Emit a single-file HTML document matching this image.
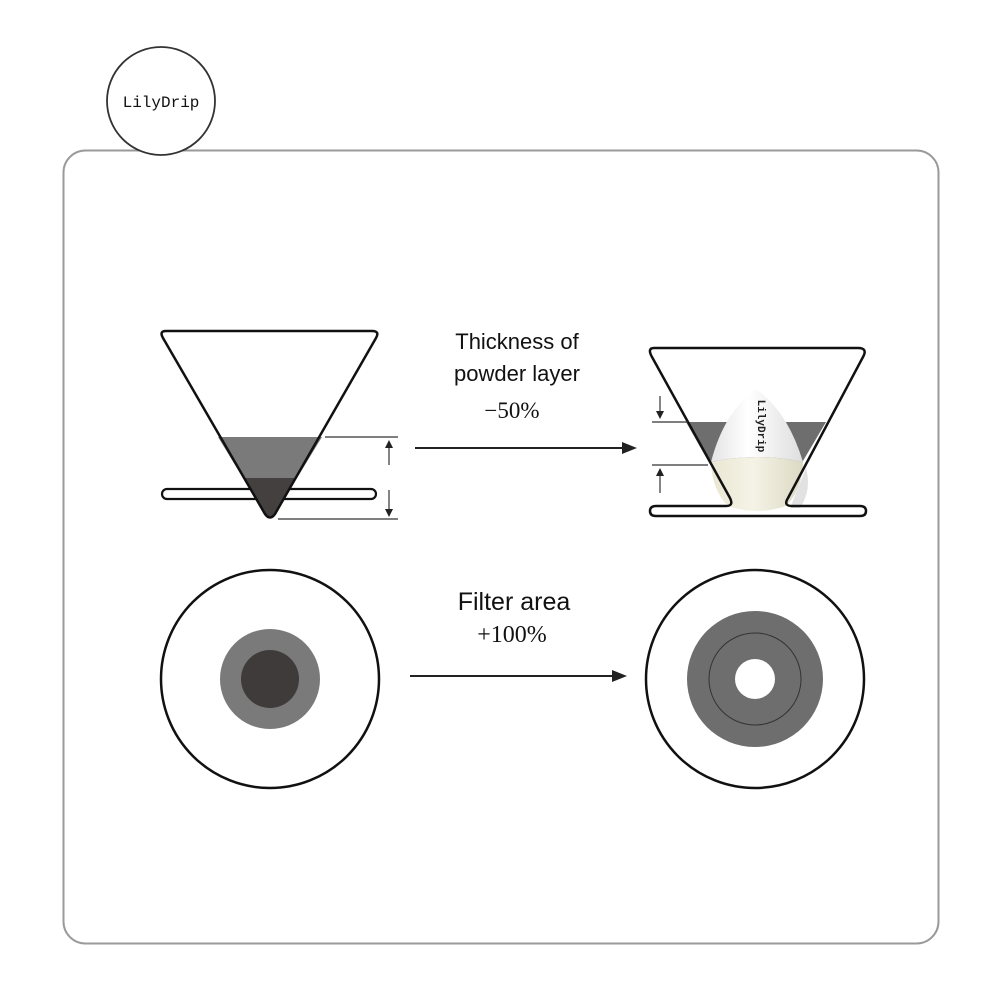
<!DOCTYPE html>
<html><head><meta charset="utf-8"><style>
html,body{margin:0;padding:0;background:#fff;}
svg{display:block}
</style></head><body>
<svg width="1002" height="1002" viewBox="0 0 1002 1002" xmlns="http://www.w3.org/2000/svg">
<defs>
<linearGradient id="cone" x1="0" y1="0" x2="1" y2="0">
<stop offset="0" stop-color="#e4e4e4"/><stop offset="0.4" stop-color="#ffffff"/><stop offset="1" stop-color="#dedede"/>
</linearGradient>
<linearGradient id="cream" x1="0" y1="0" x2="1" y2="0">
<stop offset="0" stop-color="#e9e6d2"/><stop offset="0.45" stop-color="#f5f3e6"/><stop offset="1" stop-color="#dcd9c4"/>
</linearGradient>
</defs>
<rect width="1002" height="1002" fill="#fff"/>
<rect x="63.5" y="150.5" width="875" height="793" rx="22" fill="none" stroke="#9a9a9a" stroke-width="2"/>
<circle cx="161" cy="101" r="54" fill="#fff" stroke="#333" stroke-width="1.8"/>
<text x="161" y="107" text-anchor="middle" font-family="Liberation Mono, monospace" font-size="16" fill="#111">LilyDrip</text>

<!-- Left cone -->
<rect x="162" y="489" width="214" height="10" rx="5" fill="#fff" stroke="#111" stroke-width="2.2"/>
<polygon points="218,437 322,437 297,478 243,478" fill="#7a7a7a"/>
<path d="M243,478 L297,478 L274,514 Q270,520 266,514 Z" fill="#454040"/>
<path d="M166,331 L372,331 Q380,331 376,338 L275,514 Q270,521 265,514 L163,338 Q159,331 166,331 Z" fill="none" stroke="#111" stroke-width="2.5" stroke-linejoin="round"/>
<line x1="325" y1="437" x2="398" y2="437" stroke="#333" stroke-width="1.2"/>
<line x1="278" y1="519" x2="398" y2="519" stroke="#333" stroke-width="1.2"/>
<line x1="389" y1="445" x2="389" y2="465" stroke="#333" stroke-width="1.2"/>
<polygon points="389,440 385,448 393,448" fill="#222"/>
<line x1="389" y1="490" x2="389" y2="512" stroke="#333" stroke-width="1.2"/>
<polygon points="389,517 385,509 393,509" fill="#222"/>

<!-- Top text + arrow -->
<text x="517" y="349" text-anchor="middle" font-family="Liberation Sans, sans-serif" font-size="22" fill="#111">Thickness of</text>
<text x="517" y="381" text-anchor="middle" font-family="Liberation Sans, sans-serif" font-size="22" fill="#111">powder layer</text>
<text x="512" y="418" text-anchor="middle" font-family="Liberation Serif, serif" font-size="23" fill="#111">−50%</text>
<line x1="415" y1="448" x2="625" y2="448" stroke="#222" stroke-width="2"/>
<polygon points="637,448 622,442 622,454" fill="#222"/>

<!-- Right cone -->
<polygon points="686,422 826,422 800,466 711,466" fill="#6e6e6e"/>
<path d="M806,468 Q812,490 800,508 L790,508 Z" fill="#cfcfcf" opacity="0.6"/>
<path d="M756,389 Q788,412 803,462 Q757,452 711,462 Q724,412 756,389 Z" fill="url(#cone)"/>
<path d="M711,462 Q757,452 803,462 Q802,490 786,506 Q757,516 728,506 Q712,490 711,462 Z" fill="url(#cream)"/>
<text transform="translate(758,426) rotate(90)" font-family="Liberation Mono, monospace" font-size="11" font-weight="bold" fill="#222" text-anchor="middle">LilyDrip</text>
<path d="M654,348 L858,348 Q868,348 863,357 L788,498 Q783,506 792,506 L860,506 Q866,506 866,511 Q866,516 860,516 L656,516 Q650,516 650,511 Q650,506 656,506 L726,506 Q734,506 730,498 L652,357 Q647,348 654,348 Z" fill="none" stroke="#111" stroke-width="2.5" stroke-linejoin="round"/>
<line x1="652" y1="422" x2="688" y2="422" stroke="#333" stroke-width="1.2"/>
<line x1="652" y1="465" x2="708" y2="465" stroke="#333" stroke-width="1.2"/>
<line x1="660" y1="396" x2="660" y2="412" stroke="#333" stroke-width="1.2"/>
<polygon points="660,419 656,411 664,411" fill="#222"/>
<line x1="660" y1="475" x2="660" y2="493" stroke="#333" stroke-width="1.2"/>
<polygon points="660,468 656,476 664,476" fill="#222"/>

<!-- Circles -->
<circle cx="270" cy="679" r="109" fill="#fff" stroke="#111" stroke-width="2.5"/>
<circle cx="270" cy="679" r="50" fill="#7a7a7a"/>
<circle cx="270" cy="679" r="29" fill="#3f3b3b"/>
<circle cx="755" cy="679" r="109" fill="#fff" stroke="#111" stroke-width="2.5"/>
<circle cx="755" cy="679" r="68" fill="#6e6e6e"/>
<circle cx="755" cy="679" r="46" fill="none" stroke="#333" stroke-width="1"/>
<circle cx="755" cy="679" r="20" fill="#fff"/>

<text x="514" y="610" text-anchor="middle" font-family="Liberation Sans, sans-serif" font-size="25" fill="#111">Filter area</text>
<text x="512" y="642" text-anchor="middle" font-family="Liberation Serif, serif" font-size="24" fill="#111">+100%</text>
<line x1="410" y1="676" x2="615" y2="676" stroke="#222" stroke-width="2"/>
<polygon points="627,676 612,670 612,682" fill="#222"/>
</svg>
</body></html>
